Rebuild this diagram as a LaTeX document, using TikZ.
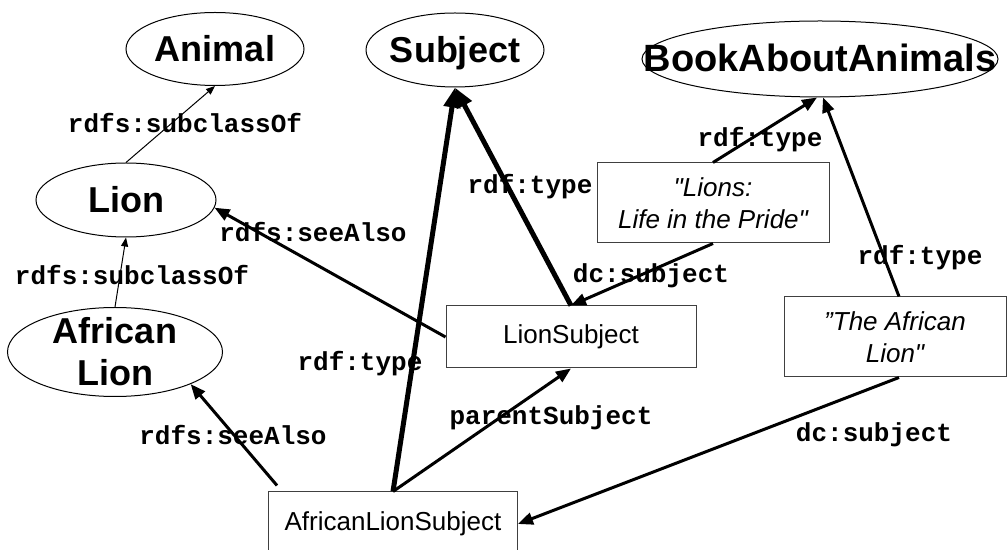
\documentclass[tikz,border=0pt]{standalone}
\usepackage{fontspec}
\setmainfont{Liberation Sans}[Ligatures=TeXOff]
\newfontfamily\codefont{Liberation Mono}
\usetikzlibrary{shapes.geometric,arrows.meta}

\tikzset{
	cls/.style={ellipse, draw, line width=0.5pt, inner sep=0pt},
	clsname/.style={inner sep=0pt, align=center, font=\fontsize{18}{21}\selectfont\bfseries},
	oneline/.style={clsname, text height=13pt, text depth=0pt},
	res/.style={rectangle, draw=black!75, line width=0.5pt, inner sep=0pt, align=center,
		font=\fontsize{13}{16}\selectfont},
	lit/.style={res, font=\fontsize{13}{16}\selectfont\itshape},
	prop/.style={inner sep=0pt, anchor=base, font=\codefont\bfseries\fontsize{13}{15}\selectfont},
	subrel/.style={line width=0.5pt, -{Triangle[length=4.5pt,width=3.5pt]}},
	rel/.style={line width=1.5pt, -{Triangle[length=7.5pt,width=6pt]}},
	typerel/.style={line width=2.5pt, -{Triangle[length=10pt,width=8pt]}},
}

\begin{document}
\begin{tikzpicture}[x=0.5pt,y=-0.5pt]
	\useasboundingbox (0,0) rectangle (1007,550);
	
	% classes
	\node[cls, minimum width=89pt, minimum height=36.5pt, label={[oneline]center:Animal}] (animal) at (215,49) {};
	\node[cls, minimum width=89pt, minimum height=37pt, label={[oneline]center:Subject}] (subject) at (455,50) {};
	\node[cls, minimum width=178pt, minimum height=38pt,
		label={[oneline, font=\fontsize{19}{21}\selectfont\bfseries]center:BookAboutAnimals}] (book) at (820,59) {};
	\node[cls, minimum width=90pt, minimum height=37pt, label={[oneline]center:Lion}] (lion) at (126,200) {};
	\node[cls, minimum width=107.5pt, minimum height=44.5pt, label={[clsname]center:{African\\Lion}}] (alion) at (115,352) {};
	
	% resources
	\node[res, minimum width=125pt, minimum height=31pt] (lionsub) at (571,337) {LionSubject};
	\node[res, minimum width=124.5pt, minimum height=32pt] (als) at (393,524) {AfricanLionSubject};
	\node[lit, minimum width=116pt, minimum height=40pt] (lions) at (713,203) {"Lions:\\Life in the Pride"};
	\node[lit, minimum width=111pt, minimum height=40pt] (tal) at (895,337) {”The African\\Lion"};
	
	% connectors
	\draw[subrel] (lion.north) -- (animal.south);
	\draw[subrel] (alion.north) -- (lion.south);
	\draw[rel] ([shift={(9,-6)}]als.north west) -- (alion.-23);
	\draw[rel] (lionsub.west) -- (lion.-5);
	\draw[typerel] (als.north) -- (subject.south);
	\draw[typerel] (lionsub.north) -- (subject.south);
	\draw[rel] (als.north) -- (lionsub.south);
	\draw[rel] (lions.north) -- ([xshift=-1.5pt]book.south);
	\draw[rel] ([xshift=2pt]tal.north) -- ([xshift=1.5pt]book.south);
	\draw[rel] (lions.south) -- (lionsub.north);
	\draw[rel] ([xshift=2pt]tal.south) -- (als.east);
	
	% labels
	\node[prop] (subclass1) at (185,133) {rdfs:subclassOf};
	\node[prop] (subclass2) at (132,285) {rdfs:subclassOf};
	\node[prop] (seealso1) at (313,242) {rdfs:seeAlso};
	\node[prop] (seealso2) at (233,445) {rdfs:seeAlso};
	\node[prop] (type1) at (360,371) {rdf:type};
	\node[prop] (type2) at (530,194) {rdf:type};
	\node[prop] (type3) at (760,147) {rdf:type};
	\node[prop] (type4) at (920,265) {rdf:type};
	\node[prop] (dcsub1) at (651,283) {dc:subject};
	\node[prop] (dcsub2) at (874,442) {dc:subject};
	\node[prop] (parent) at (551,425) {parentSubject};
\end{tikzpicture}
\end{document}
